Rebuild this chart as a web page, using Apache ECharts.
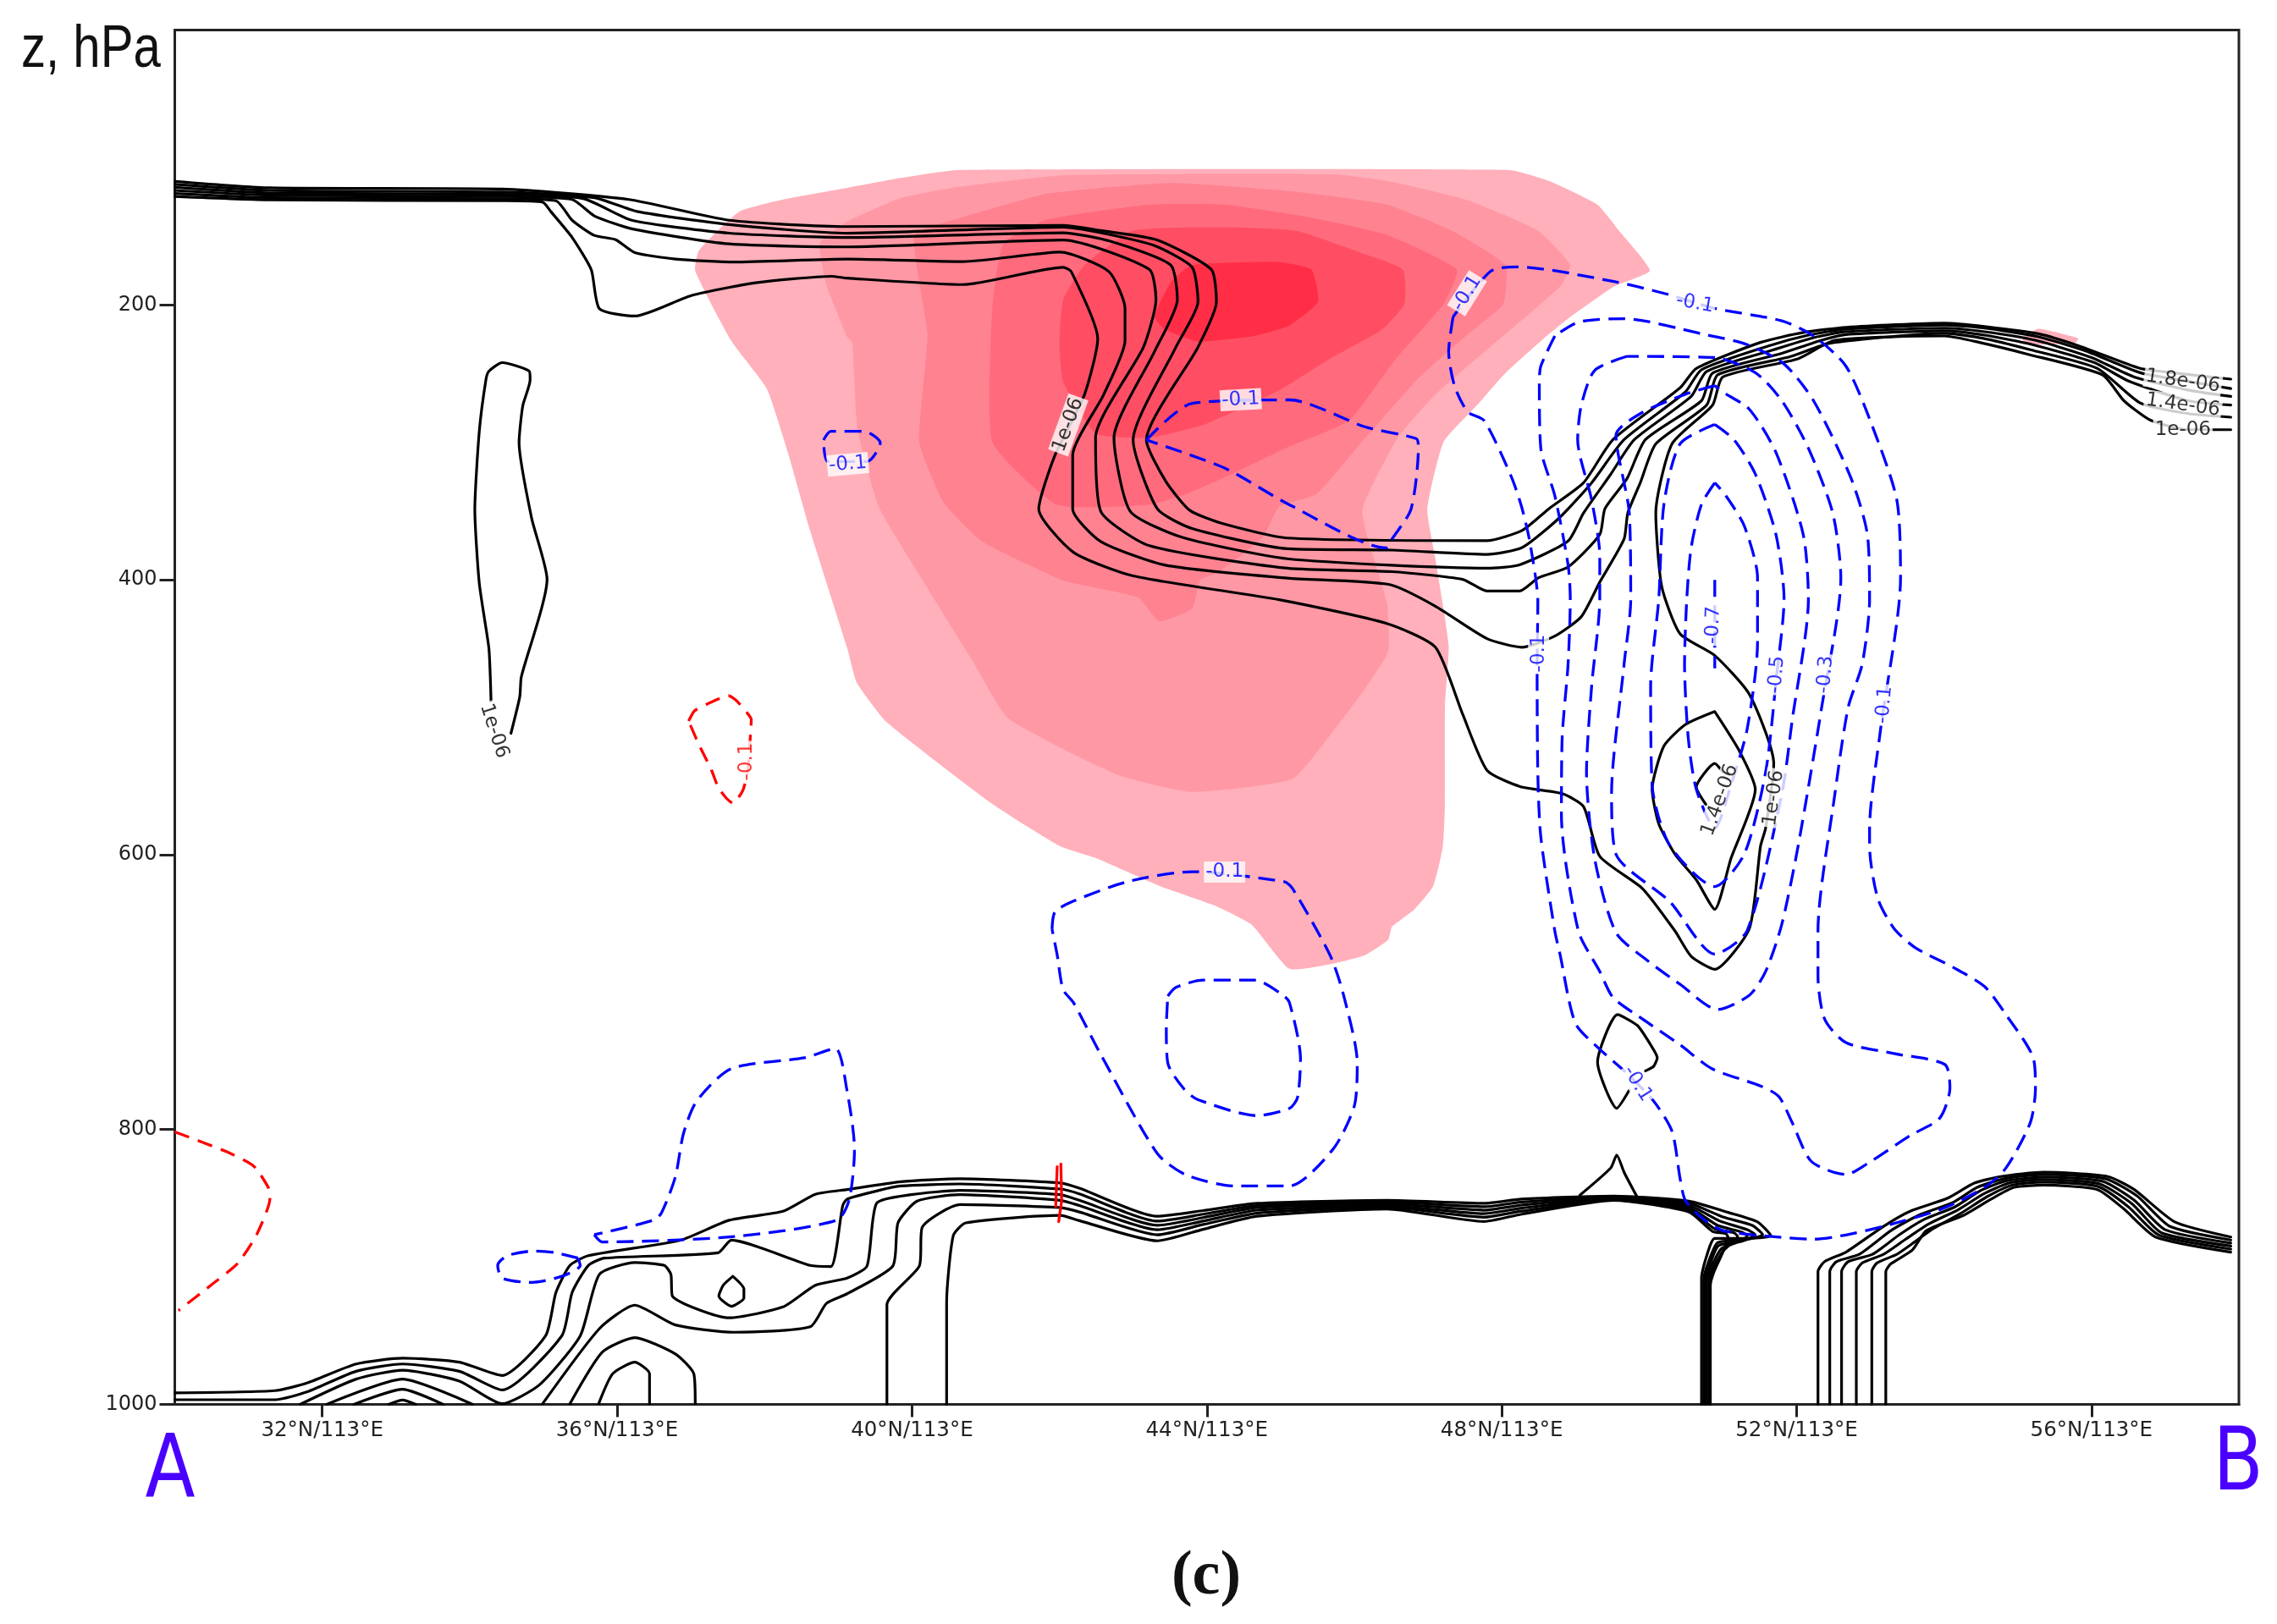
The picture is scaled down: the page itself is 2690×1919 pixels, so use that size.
<!DOCTYPE html>
<html><head><meta charset="utf-8">
<style>html,body{margin:0;padding:0;background:#fff}#c{width:2690px;height:1919px}</style>
<script src="https://cdn.jsdelivr.net/npm/echarts@6/dist/echarts.min.js"></script>
</head><body><div id="c"></div>
<script>
// Axis ticks
const latTicks = [32,36,40,44,48,52,56];
const latLabels = ['32°N/113°E','36°N/113°E','40°N/113°E','44°N/113°E','48°N/113°E','52°N/113°E','56°N/113°E'];
const pressureTicks = [200,400,600,800,1000];

// Shaded field, [latitude, hPa] boundaries, outermost first
const shade1 = [[37.06,175.4],[37.11,160.4],[37.66,132.1],[38.32,122.6],[39.12,114.8],[39.85,107.6],[40.62,101.9],[48.11,101.9],[48.64,109.8],[49.30,127.1],[49.59,145.9],[50.01,175.1],[49.52,186.7],[48.93,208.7],[48.57,224.4],[48.05,249.6],[47.69,271.6],[47.21,299.8],[46.99,348.5],[47.10,384.7],[47.28,447.5],[47.23,491.5],[47.23,563.1],[47.20,594.5],[47.07,622.8],[46.81,640.1],[46.51,652.6],[46.46,662],[46.15,673],[45.71,679.3],[45.12,683.1],[44.61,651.1],[44.10,636.9],[43.36,622.8],[42.49,602.4],[42.01,593.9],[41.09,563.1],[39.65,503.2],[39.25,474.7],[39.12,449.4],[38.62,364.6],[38.32,308],[38.03,260.9],[37.55,226.3]];
const shade2 = [[38.75,155],[38.84,185.5],[39.12,223.2],[39.19,227.6],[39.26,290.4],[39.55,347],[40.07,394],[40.8,457],[41.31,501],[42.78,541.8],[43.8,554.3],[45.16,544.9],[45.71,510.3],[46.15,478.9],[46.46,452.2],[46.44,416],[46.11,350],[46.59,296.7],[47.1,265.3],[47.91,227.6],[48.79,186.7],[48.93,171],[48.49,145.9],[47.54,123.9],[46.44,109.8],[45.71,105],[42.05,105.7],[40.58,114.5],[39.85,122.3],[39.115,139.6]];
const shade3 = [[40.03,149],[40.58,138],[41.83,119.2],[43.51,111.3],[45.2,117.6],[46.44,127],[47.32,145.9],[48.05,171],[48.02,199.3],[47.54,221.3],[46.88,252.7],[46.15,296.7],[45.49,337.5],[44.98,347],[44.76,369],[44.17,394.1],[43.91,400.4],[43.8,420.8],[43.35,430.2],[43.07,412.9],[42.05,400.4],[40.95,372.1],[40.43,343.8],[40.1,299.8],[40.21,221.3]];
const shade4 = [[41.09,202.5],[41.24,155.3],[41.83,138],[43.22,127],[44.24,127],[45.42,136.5],[46.44,149],[47.39,174.2],[47.21,199.3],[46.55,240.1],[45.93,284.1],[45.12,303],[44.39,321.8],[43.73,337.5],[43.22,345.4],[41.97,345.4],[41.09,299.8]];
const shade5 = [[42.05,196.2],[42.34,171],[43.0,145.9],[44.24,143.4],[45.2,145.9],[46.07,161.6],[46.66,174.2],[46.68,199.3],[46.37,218.2],[45.64,240.1],[44.98,262.1],[43.95,287.3],[43.22,296.7],[42.49,293.6],[42.05,255.9],[42.0,227.6]];
const shade6 = [[43.29,208.7],[43.51,183.6],[43.8,171],[44.98,168.8],[45.42,174.2],[45.51,197.7],[45.12,215],[44.61,222.9],[43.88,226.6],[43.44,218.2]];
const shadeSmall = [[55.06,224.2],[55.28,217.3],[55.82,224.2],[55.79,227.3],[55.13,228.9]];

// Upper black contours
const upperA = [[30,110.1],[31.29,114.8],[34.44,115.7],[36.16,123.3],[37.52,138.4],[39.12,143],[42.05,142.1],[42.56,145.9],[43.33,152.8],[44.06,174.2],[44.13,197.7],[43.88,230.7],[43.18,298.3],[43.44,328.1],[43.77,349.5],[44.24,359.5],[45.09,369.6],[47.8,371.5],[48.28,364],[48.64,348.3],[49.11,329.4],[49.51,298],[50.42,260.3],[50.64,246.2],[51.51,227.3],[52.09,220.1],[52.67,216.3],[54.01,213.2],[54.55,215.7],[55.28,221],[55.86,230.4],[56.66,246.2],[57.09,249.3],[57.89,254]];
const upperB = [[30,112.3],[31.29,116.7],[34.44,117.9],[35.69,122],[36.27,132],[37.52,141.5],[39.12,147.8],[42.05,143.4],[42.56,147.5],[43.29,156.9],[43.8,172.6],[43.88,197.7],[43.58,230.7],[43,298.3],[43.33,348.5],[43.8,362.7],[45.09,377.4],[46.51,378.4],[47.8,381.5],[48.28,376.5],[48.79,354.5],[49.22,329.4],[49.66,298],[50.49,263.4],[50.71,247.1],[51.62,229.8],[52.16,222],[52.67,217.6],[54.01,214.7],[54.55,216.9],[55.28,223.2],[55.93,233.6],[56.66,249.3],[57.31,255.6],[57.89,260.9]];
const upperC = [[30,114.5],[31.29,118.6],[34.44,119.5],[35.54,122.6],[36.2,138.4],[37.52,147.8],[39.12,150.9],[42.05,147.5],[42.7,153.8],[43.51,171],[43.6,196.2],[43.29,233.9],[42.74,296.7],[42.96,350.1],[43.66,369],[45.09,384.7],[47.8,391.6],[48.24,389.1],[48.9,371.8],[49.11,351.4],[49.48,323.1],[49.8,298],[50.57,266.6],[50.78,248.4],[51.69,232.6],[52.23,223.8],[52.67,219.5],[54.01,216.9],[54.55,219.5],[55.24,225.7],[56,238.3],[56.58,252.4],[57.31,261.9],[57.89,266.6]];
const upperD = [[30,116.7],[31.29,120.2],[34.44,121.1],[35.39,123.3],[35.69,135.2],[36.2,144.6],[37.52,155.6],[39.12,157.8],[42.05,152.8],[43.22,174.2],[43.31,196.2],[43.14,230.7],[42.49,296.7],[42.56,350.1],[43.22,375.2],[45.09,391.6],[46.51,394.1],[47.47,399.7],[47.8,408.2],[48.24,408.2],[48.5,398.5],[48.9,390.7],[49.33,367.1],[49.4,348.3],[49.7,326.3],[49.95,298],[50.71,269.7],[50.86,249.6],[51.8,235.2],[52.34,225.7],[52.67,221.6],[54.01,218.8],[54.55,222],[55.2,228.9],[56.04,242],[56.51,255.6],[57.31,269.7],[57.89,272.9]];
const upperE = [[30,118.9],[31.29,122],[34.44,122.7],[35.17,124.2],[35.39,138.4],[35.69,149.4],[35.98,152.5],[36.24,161.9],[36.79,166.6],[37.59,168.8],[39.12,166.6],[40.69,168.5],[42.01,161.6],[42.67,175.7],[42.89,202.5],[42.89,226],[42.6,265.3],[42.18,309.3],[42.18,348.5],[42.56,372.1],[43.44,389.4],[45.09,398.8],[46.48,403.5],[47.1,419.2],[47.8,442.8],[48.27,449.1],[48.72,441],[49.08,426.8],[49.33,401.7],[49.66,370.3],[49.71,351.4],[49.88,329.4],[50.09,301.1],[50.78,272.9],[50.93,250.9],[51.91,237.7],[52.45,227.9],[54.01,220.7],[54.52,224.2],[55.17,232.6],[56.08,246.2],[56.66,271.3],[57.31,279.1],[57.89,281.7]];
const upperF = [[30,121.1],[31.29,123.6],[34.44,124.2],[34.99,125.2],[35.1,132],[35.39,150.9],[35.65,174.5],[35.76,202.8],[36.24,208.1],[37,193.3],[37.88,183.9],[38.91,179.2],[39.115,180.5],[40.69,185.2],[42.05,172.6],[42.16,175.7],[42.52,224.4],[42.34,265.3],[41.94,309.3],[41.72,348.5],[42.19,380],[43,397.2],[44.98,414.5],[46.44,431.8],[47.1,449.1],[47.47,497.8],[47.8,538.6],[48.25,550.5],[48.82,555.6],[49.11,565],[49.33,601.2],[49.91,624.7],[50.35,655.5],[50.57,674],[50.89,683.4],[51.36,653.6],[51.51,593.9],[51.58,580.7],[51.69,533.6],[51.36,483.4],[50.89,455.1],[50.42,439.4],[50.17,404.8],[50.09,351.4],[50.31,301.1],[50.86,272.9],[51,252.4],[52.02,239.2],[52.52,225.7],[54.01,222.6],[54.48,227.3],[55.13,235.8],[56.15,250.9],[56.44,269.7],[56.8,283.9],[57.31,290.8],[57.89,290.8]];

// Isolated black contours
const loopWest = [[34.29,488.4],[34.28,470.8],[34.26,449.4],[34.13,402.3],[34.07,348.8],[34.13,292.3],[34.22,254.6],[34.26,248.3],[34.44,242],[34.81,248.3],[34.82,254.6],[34.72,273.5],[34.67,300.2],[34.84,355.1],[35.05,399.7],[34.7,470.8],[34.68,485],[34.56,511.7]];
const lensOuter = [[50.89,495.9],[50.49,505.4],[50.2,521],[50.04,552.5],[50.13,577.6],[50.35,599.6],[50.64,618.4],[50.89,639.8],[51.11,602.7],[51.44,552.5],[51.22,524.2],[50.89,495.9]];
const lensInner = [[51,539.9],[50.89,533.6],[50.64,550.9],[50.77,563.5]];
const kite = [[49.73,771.4],[49.56,784.6],[49.3,751],[49.57,716.4],[49.84,724.3],[50.02,738.4],[50.11,747.8],[50.06,754.1],[49.95,757.3]];
const spike = [[49.06,847.8],[49.48,827.9],[49.56,818.5],[49.66,831.1],[49.83,848.4]];
const droplet = [[37.57,906.8],[37.72,916],[37.72,922.5],[37.55,928.6],[37.38,921.2],[37.44,913.3],[37.57,906.8]];

// Lower black contours
const lowA = [[30,991.6],[31.36,990],[31.8,984.3],[32.46,970.6],[33.09,966.4],[33.86,969.3],[34.44,979],[35.03,950.1],[35.17,918.6],[35.36,898.9],[35.61,891.8],[36.86,880.5],[37.52,866],[38.25,859.5],[38.69,847.1],[39.12,843.7],[39.85,838],[40.65,835.8],[42.01,838.9],[42.27,842.7],[43.33,863.1],[43.95,859],[44.68,853.7],[46.44,851.5],[47.76,853.7],[48.27,850.6],[49.52,848.4],[50.54,852.1],[51.07,860.3],[51.47,867.2],[51.65,877.3],[51.29,879.2],[50.89,879.2],[50.76,895.5],[50.71,908],[50.71,1000]];
const lowB = [[30,996.6],[31.36,996.6],[31.8,990.8],[32.46,975.9],[33.09,970.6],[33.86,975.9],[34.44,989.5],[35.25,950.1],[35.39,918.6],[35.61,898.9],[35.83,893.6],[37.37,889.7],[37.55,880.5],[38.62,898.9],[38.9,899.7],[39.06,855.5],[39.12,850.6],[39.55,844.3],[39.85,841.1],[40.65,839.6],[42.01,843.3],[42.27,846.8],[43.33,866.6],[43.95,861.6],[44.68,855.3],[46.44,852.8],[47.76,856.2],[48.27,852.8],[49.52,849],[50.54,853.7],[51,863.6],[51.4,869.8],[51.54,876.6],[51.29,880.4],[50.93,882.3],[50.8,897.1],[50.74,909.6],[50.74,1000]];
const lowC = [[31.7,1000],[32.46,981.6],[33.09,975.1],[33.86,983],[34.44,999.5],[34.95,985.6],[35.5,950.1],[35.76,905.4],[36.24,896.8],[36.64,898.9],[36.73,905.4],[36.75,921.2],[37.52,937],[38.25,929.1],[38.69,913.3],[39.12,908.1],[39.39,899.3],[39.52,853.7],[39.99,847.4],[40.65,844.3],[42.01,847.4],[42.27,851.5],[43.33,869.7],[43.95,864.1],[44.68,856.8],[46.44,854],[47.76,858.7],[48.27,855],[49.52,849.6],[50.54,855.3],[50.96,866.6],[51.33,872.9],[51.44,876.6],[51.25,881.4],[50.94,884.5],[50.82,898.7],[50.76,910.6],[50.76,1000]];
const lowD = [[34.99,999.5],[35.76,944.9],[36.24,927.8],[36.79,942.2],[37.59,947.5],[38.62,943.5],[38.84,926.5],[39.12,919.5],[39.74,899.3],[39.81,867.9],[40.07,852.1],[40.65,847.4],[42.01,851.5],[42.27,855.3],[43.33,872.9],[43.95,866.6],[44.68,858.7],[46.44,855.3],[47.76,861.2],[48.27,857.2],[49.52,850.3],[50.54,856.8],[50.93,869.8],[51.25,874.5],[51.33,877.3],[51.18,882.3],[50.98,886.7],[50.84,900.2],[50.78,911.8],[50.78,1000]];
const lowE = [[39.66,1000],[39.66,927.5],[40.1,899.3],[40.14,871],[40.65,854.6],[42.01,856.8],[42.27,860],[43.33,876.6],[43.95,869.1],[44.68,860.9],[46.44,856.5],[47.76,863.8],[48.27,859.4],[49.52,850.9],[50.54,858.4],[50.89,872.3],[51.15,875.1],[51.2,877.9],[51.11,882.9],[51,888.6],[50.86,901.8],[50.81,912.8],[50.81,1000]];
const lowF = [[40.47,1000],[40.47,926],[40.56,877.3],[40.73,867.9],[42.01,862.5],[42.27,866.3],[43.33,881],[43.95,872.6],[44.68,863.1],[46.44,857.8],[47.76,866.9],[48.27,861.6],[49.52,851.5],[50.54,860],[50.86,874.1],[51.04,875.7],[51.07,878.5],[51.04,884.5],[50.88,903.4],[50.83,913.7],[50.83,1000]];
const humpD = [[32.06,1000],[33.09,981.6],[34.04,1000]];
const humpE = [[32.43,1000],[33.09,989],[33.64,1000]];
const humpF = [[32.9,1000],[33.09,996.9],[33.27,1000]];
const archE = [[35.36,999.5],[35.8,961.9],[36.24,951.4],[36.79,963.3],[37.04,977.7],[37.06,999.5]];
const archF = [[35.75,999.5],[35.94,977.7],[36.24,969.3],[36.44,977.7],[36.44,999.5]];
const ridgeA = [[52.29,1000],[52.29,903.4],[52.38,896.1],[52.67,889.2],[53.18,870.4],[53.54,859.4],[54.05,849.9],[54.41,839],[54.77,834.2],[55.35,831.1],[56.22,834.2],[56.58,843.7],[57.13,867.2],[57.89,878.2]];
const ridgeB = [[52.45,1000],[52.45,903.4],[52.54,896.1],[52.85,890.8],[53.28,873.5],[53.65,862.5],[54.12,853.1],[54.45,842.1],[54.81,835.8],[55.35,832.7],[56.19,835.8],[56.62,848.4],[57.06,870.4],[57.89,880.4]];
const ridgeC = [[52.61,1000],[52.61,903.4],[52.7,896.1],[53.03,890.8],[53.39,876.7],[53.72,865.7],[54.15,856.2],[54.5,844.3],[54.84,837.4],[55.35,834.6],[56.15,837.7],[56.58,851.5],[57,872.9],[57.89,882.6]];
const ridgeD = [[52.81,1000],[52.81,903.4],[52.89,897.1],[53.18,890.8],[53.48,879.8],[53.79,868.8],[54.19,858.4],[54.54,846.8],[54.88,839],[55.35,836.4],[56.11,839.6],[56.55,854],[56.95,875.1],[57.89,884.8]];
const ridgeE = [[53.02,1000],[53.02,903.4],[53.09,897.1],[53.36,890.8],[53.57,883],[53.86,871.9],[54.23,860.9],[54.58,849],[54.92,840.5],[55.35,838.3],[56.09,841.5],[56.5,856.2],[56.91,876.7],[57.89,887]];
const ridgeF = [[53.21,1000],[53.21,903.4],[53.28,897.7],[53.57,887.7],[53.76,873.5],[54.26,862.5],[54.63,850.9],[54.95,842.1],[55.35,840.5],[56.08,843.7],[56.44,857.8],[56.87,878.2],[57.89,889.2]];

// Blue dashed contours
const blueOuter = [[47.34,208.7],[47.28,233.9],[47.36,259],[47.54,277.9],[47.76,284.1],[48.13,325],[48.27,347],[48.38,372.1],[48.49,416],[48.48,463.2],[48.49,541.8],[48.53,587],[48.72,655.5],[48.79,672.4],[49,722.7],[49.33,741.6],[49.66,757.3],[50.06,779.3],[50.31,801.3],[50.42,835.8],[50.49,851.5],[50.71,864.1],[51,873.5],[51.73,878.2],[52.23,879.8],[52.67,876.7],[53.18,870.4],[53.97,857.8],[54.55,842.1],[54.84,828],[55.17,795],[55.24,769.8],[55.21,747.8],[54.84,716.4],[54.55,696],[54.12,681.9],[53.61,667.7],[53.32,653.6],[53.1,631.6],[52.99,593.9],[52.99,580.7],[53.14,508.5],[53.41,398.5],[53.36,342],[53.03,288.6],[52.67,244.6],[52.23,222.6],[51.8,211.6],[50.86,202.2],[50.28,192.7],[49.55,183.3],[48.21,172.3],[47.85,175.5],[47.34,208.7]];
const blueSecond = [[48.72,222.6],[48.53,244.6],[48.51,257.2],[48.53,304.3],[48.72,338.8],[48.9,389.1],[48.93,414.2],[48.9,461.4],[48.82,514.8],[48.81,571.3],[49.04,655.5],[49.33,685],[49.51,703.9],[49.91,719.6],[50.42,738.4],[50.85,755.7],[51.51,768.3],[51.76,776.1],[51.94,795],[52.2,823.2],[52.67,832.7],[52.96,824.8],[53.54,804.4],[53.94,791.8],[54.08,769.8],[54.01,752.6],[53.32,744.7],[52.67,736.8],[52.38,719.6],[52.29,688.1],[52.29,655.5],[52.52,555.6],[52.7,492.8],[52.89,461.4],[52.99,414.2],[52.96,367.1],[52.74,326.3],[52.23,269.7],[51.83,243],[51.33,228.9],[50.71,221],[49.66,210],[49.04,212.5],[48.72,222.6]];
const blueThird = [[49.7,237.4],[49.26,247.7],[49.08,272.9],[49.03,298],[49.22,342],[49.33,382.8],[49.33,414.2],[49.22,477.1],[49.15,539.9],[49.26,602.7],[49.55,656.7],[49.98,677.2],[50.42,694.4],[50.93,712.7],[51.36,702.3],[51.58,685],[51.8,650.5],[52.02,593.9],[52.34,492.8],[52.6,398.5],[52.49,351.4],[52.16,304.3],[51.8,269.7],[51.44,249.3],[50.89,238.3],[49.7,237.4]];
const blueFourth = [[50.89,258.7],[50.49,265],[49.88,279.1],[49.55,294.9],[49.73,351.4],[49.75,414.2],[49.66,461.4],[49.49,555.6],[49.55,599.6],[50.28,634.2],[50.89,672.4],[51.33,655.2],[51.8,555.6],[51.94,502.2],[52.16,414.2],[52.09,367.1],[51.72,307.4],[51.36,276],[51,263.4],[50.89,258.7]];
const blueFifth = [[50.89,287],[50.42,301.1],[50.2,345.1],[50.13,414.2],[50.02,477.1],[50.04,549.3],[50.28,593.3],[50.89,623.2],[51.29,599.6],[51.58,539.9],[51.73,469.2],[51.83,414.2],[51.72,367.1],[51.44,323.1],[51.15,298],[50.89,287]];
const blueSixth = [[50.89,329.4],[50.71,345.1],[50.57,376.5],[50.51,414.2],[50.48,461.4],[50.53,514.8],[50.64,552.5],[50.89,580.8],[51.11,549.3],[51.33,508.5],[51.47,445.7],[51.47,398.5],[51.29,360.8],[51.04,338.8],[50.89,329.4]];
const blueCore = [[50.89,400.1],[50.89,464.5]];
const blueMid = [[43.18,298.3],[43.8,271.6],[45.12,269.1],[46.15,288.8],[46.84,297.3],[46.87,303],[46.77,348.5],[46.51,370.5],[46.44,376.8],[45.12,345.4],[44.24,318.7],[43.18,298.3]];
const blueTiny = [[38.8,298.3],[38.9,291.9],[39.35,291.9],[39.57,300.4],[39.39,314],[38.86,314],[38.8,298.3]];
const blueLowOuter = [[41.9,654.2],[41.94,641.6],[42.19,633.8],[42.92,619.7],[43.8,612.4],[45.05,619.7],[45.16,624.4],[45.67,673],[45.85,701.3],[46.04,751.6],[46,783],[45.71,814.4],[45.12,841.1],[44.39,841.1],[43.73,833.3],[43.33,817.6],[42.56,745.3],[42.19,707.6],[42.05,698.2],[41.97,673],[41.9,654.2]];
const blueLowInner = [[43.47,702.9],[43.58,696.6],[43.95,691.3],[44.65,691.3],[45.01,701.3],[45.12,707.6],[45.27,748.5],[45.23,776.7],[45.12,784.6],[44.68,789.9],[43.88,778.3],[43.69,770.5],[43.47,751.6],[43.45,726.5],[43.47,702.9]];
const blueHill = [[35.69,876.5],[35.8,881.8],[37.59,877.9],[38.98,866],[39.15,850.6],[39.22,814.4],[39.115,770.5],[38.96,741],[38.54,747.8],[37.55,755.7],[37.08,779.3],[36.9,803],[36.79,834.5],[36.6,860.8],[36.49,866],[35.69,876.5]];
const blueOval = [[35.47,893.6],[35.17,889.7],[34.88,888.4],[34.51,891.8],[34.38,898.9],[34.44,908.1],[34.84,911.2],[35.25,906.8],[35.5,898.9],[35.47,893.6]];

// Red dashed contours
const redWest = [[30,801.7],[30.7,816.1],[31.07,826.6],[31.27,842.4],[31.29,850.3],[31.11,876.5],[30.85,897.6],[30.49,913.3],[30.05,931.7]];
const redLoop = [[36.97,502.8],[37.05,495.4],[37.22,490.5],[37.51,484.3],[37.62,488],[37.76,496.6],[37.82,501.6],[37.81,512],[37.77,540.3],[37.7,553.9],[37.57,562.5],[37.48,558.8],[37.37,550.8],[37.28,538.5],[37.1,518.8],[36.97,502.8]];
const redTickA = [[41.95,856],[41.97,827]];
const redTickB = [[42.02,825],[42.03,852],[41.99,867]];

// Contour labels: [latitude, hPa, text, rotation, kind]
const contourLabels = [
  [42.12,287.3,'1e-06',70,'k'],[44.46,269,'-0.1',3,'b'],[47.53,191.5,'-0.1',58,'b'],
  [50.62,199,'-0.1',-10,'b'],[48.5,453.5,'-0.1',90,'b'],[50.87,433,'-0.7',88,'b'],
  [51.73,469,'-0.5',85,'b'],[52.39,469,'-0.3',85,'b'],[53.19,491,'-0.1',85,'b'],
  [50.96,560.3,'1.4e-06',70,'k'],[51.69,558.8,'1e-06',82,'k'],[57.24,255.6,'1.8e-06',-8,'k'],
  [57.24,272.9,'1.4e-06',-8,'k'],[57.24,291.1,'1e-06',0,'k'],[34.33,510,'1e-06',-72,'k'],
  [49.84,766.7,'-0.1',-58,'b'],[44.24,612.7,'-0.1',0,'b'],[39.13,316,'-0.1',5,'b'],[37.76,532.3,'-0.1',90,'r']
];

const shades = [[shade1,'#ffb0ba'],[shade2,'#ff98a5'],[shade3,'#ff8291'],[shade4,'#ff6b7d'],[shade5,'#ff4e63'],[shade6,'#ff2e46'],[shadeSmall,'#ffb0ba']];
const blackLines = [upperA,upperB,upperC,upperD,upperE,upperF,loopWest,lensOuter,lensInner,kite,spike,droplet,lowA,lowB,lowC,lowD,lowE,lowF,humpD,humpE,humpF,archE,archF,ridgeA,ridgeB,ridgeC,ridgeD,ridgeE,ridgeF];
const blueLines = [blueOuter,blueSecond,blueThird,blueFourth,blueFifth,blueSixth,blueCore,blueMid,blueTiny,blueLowOuter,blueLowInner,blueHill,blueOval];
const redLines = [redWest,redLoop];
const redSolid = [redTickA,redTickB];
const kinds = {k:'#000',b:'#0000ff',r:'#ff0000'};

const lineSeries = (d,color,width,dash,smooth) => ({type:'line',data:d,showSymbol:false,symbol:'none',smooth:smooth||false,silent:true,animation:false,z:3,
  lineStyle:{color:color,width:width,type:dash||'solid',cap:dash?'butt':'round',join:'round'}});
const series = [];
shades.forEach(([pts,color]) => series.push({type:'custom',data:pts,silent:true,animation:false,z:2,coordinateSystem:'cartesian2d',
  renderItem:(p,api)=>p.dataIndex===0?{type:'polygon',shape:{points:pts.map(q=>api.coord(q)),smooth:0.15},style:{fill:color}}:null}));
blackLines.forEach(d=>series.push(lineSeries(d,'#000',3.2,null,0.2)));
blueLines.forEach(d=>series.push(lineSeries(d,'#0000ff',3.3,[20,10],0.25)));
redLines.forEach(d=>series.push(lineSeries(d,'#ff0000',3.3,[18,11],0.2)));
redSolid.forEach(d=>series.push(lineSeries(d,'#ff0000',3.3)));
series.push({type:'scatter',symbolSize:1,silent:true,animation:false,z:5,itemStyle:{color:'rgba(0,0,0,0)'},
  data:contourLabels.map(l=>({value:[l[0],l[1]],label:{show:true,position:'inside',formatter:l[2],rotate:l[3],color:kinds[l[4]],
    fontFamily:'DejaVu Sans',fontSize:23,backgroundColor:'#fff',padding:[1,2]}}))});

const chart = echarts.init(document.getElementById('c'),null,{renderer:'canvas',width:2690,height:1919});
chart.setOption({
  animation:false,backgroundColor:'#fff',
  grid:{left:206.5,right:45,top:35.5,bottom:259.5,show:true,borderColor:'#222',borderWidth:3,backgroundColor:'transparent',z:1},
  xAxis:{type:'value',min:30,max:58,splitLine:{show:false},
    axisLine:{show:true,onZero:false,lineStyle:{color:'#222',width:3}},
    axisTick:{show:true,length:15,inside:false,customValues:latTicks,lineStyle:{color:'#222',width:3}},
    axisLabel:{customValues:latTicks,formatter:v=>latLabels[latTicks.indexOf(v)]||'',margin:19,color:'#222',fontFamily:'DejaVu Sans',fontSize:24.5}},
  yAxis:{type:'value',min:0,max:1000,inverse:true,splitLine:{show:false},
    axisLine:{show:true,onZero:false,lineStyle:{color:'#222',width:3}},
    axisTick:{show:true,length:18,customValues:pressureTicks,lineStyle:{color:'#222',width:3}},
    axisLabel:{customValues:pressureTicks,formatter:v=>String(v),margin:21,color:'#222',fontFamily:'DejaVu Sans',fontSize:24}},
  series:series,
  graphic:[
    {type:'text',x:25,y:60,scaleX:0.83,z:10,style:{text:'z, hPa',fontFamily:'Liberation Sans',fontSize:70,fill:'#111',textAlign:'left',textVerticalAlign:'middle'}},
    {type:'text',x:201,y:1741,scaleX:0.83,z:10,style:{text:'A',fontFamily:'DejaVu Sans',fontSize:104,fill:'#4a00ff',textAlign:'center',textVerticalAlign:'middle'}},
    {type:'text',x:2644,y:1733,scaleX:0.83,z:10,style:{text:'B',fontFamily:'DejaVu Sans',fontSize:104,fill:'#4a00ff',textAlign:'center',textVerticalAlign:'middle'}},
    {type:'text',x:1425,y:1864,z:10,style:{text:'(c)',fontFamily:'Liberation Serif',fontWeight:'bold',fontSize:74,fill:'#111',textAlign:'center',textVerticalAlign:'middle'}}
  ]
});
</script></body></html>
